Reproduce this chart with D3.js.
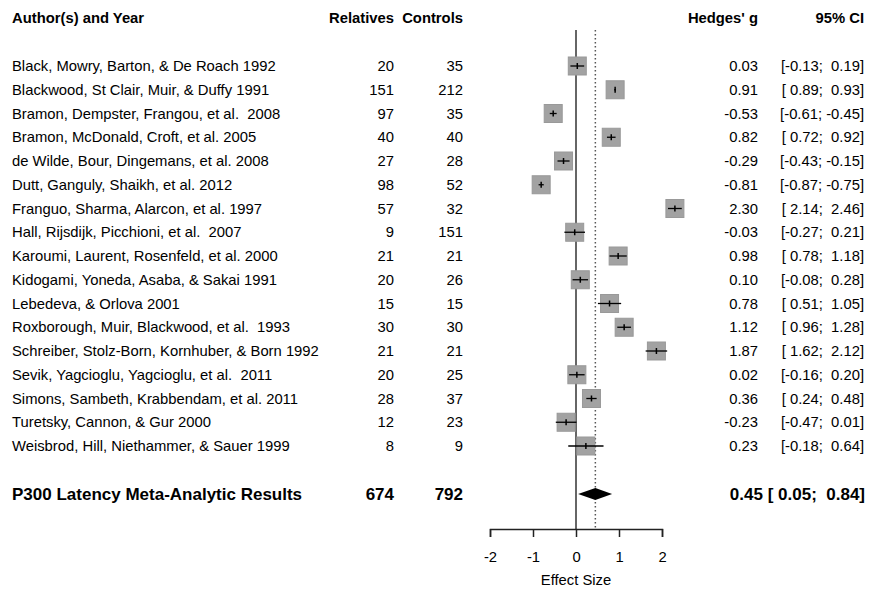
<!DOCTYPE html>
<html>
<head>
<meta charset="utf-8">
<script src="https://cdn.jsdelivr.net/npm/d3@7"></script>
<style>
    body { margin: 0; background: #fff; }
    svg text { font-family: Arial, "Liberation Sans", sans-serif; fill: #000; white-space: pre; }
</style>
</head>
<body>
<div id="chart"></div>
<script>
// study rows, top to bottom
const studies = [
    "Black, Mowry, Barton, & De Roach 1992",
    "Blackwood, St Clair, Muir, & Duffy 1991",
    "Bramon, Dempster, Frangou, et al.  2008",
    "Bramon, McDonald, Croft, et al. 2005",
    "de Wilde, Bour, Dingemans, et al. 2008",
    "Dutt, Ganguly, Shaikh, et al. 2012",
    "Franguo, Sharma, Alarcon, et al. 1997",
    "Hall, Rijsdijk, Picchioni, et al.  2007",
    "Karoumi, Laurent, Rosenfeld, et al. 2000",
    "Kidogami, Yoneda, Asaba, & Sakai 1991",
    "Lebedeva, & Orlova 2001",
    "Roxborough, Muir, Blackwood, et al.  1993",
    "Schreiber, Stolz-Born, Kornhuber, & Born 1992",
    "Sevik, Yagcioglu, Yagcioglu, et al.  2011",
    "Simons, Sambeth, Krabbendam, et al. 2011",
    "Turetsky, Cannon, & Gur 2000",
    "Weisbrod, Hill, Niethammer, & Sauer 1999"
];
const relatives = [20, 151, 97, 40, 27, 98, 57, 9, 21, 20, 15, 30, 21, 20, 28, 12, 8];
const controls = [35, 212, 35, 40, 28, 52, 32, 151, 21, 26, 15, 30, 21, 25, 37, 23, 9];
const hedgesG = [0.03, 0.91, -0.53, 0.82, -0.29, -0.81, 2.30, -0.03, 0.98, 0.10, 0.78, 1.12, 1.87, 0.02, 0.36, -0.23, 0.23];
const ciLower = [-0.13, 0.89, -0.61, 0.72, -0.43, -0.87, 2.14, -0.27, 0.78, -0.08, 0.51, 0.96, 1.62, -0.16, 0.24, -0.47, -0.18];
const ciUpper = [0.19, 0.93, -0.45, 0.92, -0.15, -0.75, 2.46, 0.21, 1.18, 0.28, 1.05, 1.28, 2.12, 0.20, 0.48, 0.01, 0.64];

const summaryLabel = "P300 Latency Meta-Analytic Results";
const summaryN = [674, 792];
const summaryG = 0.45;
const summaryCI = [0.05, 0.84];

const axisTicks = [-2, -1, 0, 1, 2];

const width = 869, height = 590;
const fontSize = 14.8;

const svg = d3.select('#chart').append('svg')
    .attr('width', width)
    .attr('height', height);

const x = d3.scaleLinear().domain([-2, 2]).range([490, 662]);
const y = d3.scaleLinear().domain([0, studies.length - 1]).range([66, 446]);
const ySummary = 494;
const plotTop = 30, plotBottom = 529;

const colAuthor = 12, colRel = 394, colCtl = 463, colG = 758, colCI = 864;

function fmtCI(lo, hi) {
    const f = v => (v < 0 ? '' : ' ') + v.toFixed(2);
    return `[${f(lo)}; ${f(hi)}]`;
}

// headers
const header = svg.append('g').style('font-weight', 'bold').style('font-size', fontSize + 'px');
header.append('text').attr('x', colAuthor).attr('y', 18).attr('dy', '0.35em').text('Author(s) and Year');
header.append('text').attr('x', colRel).attr('y', 18).attr('dy', '0.35em').attr('text-anchor', 'end').text('Relatives');
header.append('text').attr('x', colCtl).attr('y', 18).attr('dy', '0.35em').attr('text-anchor', 'end').text('Controls');
header.append('text').attr('x', colG).attr('y', 18).attr('dy', '0.35em').attr('text-anchor', 'end').text("Hedges' g");
header.append('text').attr('x', colCI).attr('y', 18).attr('dy', '0.35em').attr('text-anchor', 'end').text('95% CI');

// reference lines
svg.append('line')
    .attr('x1', x(0)).attr('x2', x(0))
    .attr('y1', plotTop).attr('y2', plotBottom)
    .attr('stroke', '#333').attr('stroke-width', 1.5);

svg.append('line')
    .attr('x1', x(summaryG)).attr('x2', x(summaryG))
    .attr('y1', plotTop).attr('y2', plotBottom)
    .attr('stroke', '#555').attr('stroke-width', 1.5)
    .attr('stroke-dasharray', '1.5,2.5');

// study rows
const rows = svg.selectAll('.row')
    .data(studies.map((name, i) => ({ name, i })))
    .enter().append('g')
    .attr('class', 'row')
    .style('font-size', fontSize + 'px');

rows.append('text').attr('x', colAuthor).attr('y', d => y(d.i)).attr('dy', '0.35em').text(d => d.name);
rows.append('text').attr('x', colRel).attr('y', d => y(d.i)).attr('dy', '0.35em').attr('text-anchor', 'end').text(d => relatives[d.i]);
rows.append('text').attr('x', colCtl).attr('y', d => y(d.i)).attr('dy', '0.35em').attr('text-anchor', 'end').text(d => controls[d.i]);
rows.append('text').attr('x', colG).attr('y', d => y(d.i)).attr('dy', '0.35em').attr('text-anchor', 'end').text(d => hedgesG[d.i].toFixed(2));
rows.append('text').attr('x', colCI).attr('y', d => y(d.i)).attr('dy', '0.35em').attr('text-anchor', 'end').text(d => fmtCI(ciLower[d.i], ciUpper[d.i]));

const box = 18;
rows.append('rect')
    .attr('x', d => x(hedgesG[d.i]) - box / 2)
    .attr('y', d => y(d.i) - box / 2)
    .attr('width', box).attr('height', box)
    .attr('fill', '#a2a2a2')
    .attr('stroke', '#999').attr('stroke-width', 1);

rows.append('line')
    .attr('x1', d => x(ciLower[d.i])).attr('x2', d => x(ciUpper[d.i]))
    .attr('y1', d => y(d.i)).attr('y2', d => y(d.i))
    .attr('stroke', '#000').attr('stroke-width', 1.3);

rows.append('line')
    .attr('x1', d => x(hedgesG[d.i])).attr('x2', d => x(hedgesG[d.i]))
    .attr('y1', d => y(d.i) - 3).attr('y2', d => y(d.i) + 3)
    .attr('stroke', '#000').attr('stroke-width', 1.5);

// summary row
const sum = svg.append('g').style('font-weight', 'bold').style('font-size', '17px');
sum.append('text').attr('x', colAuthor).attr('y', ySummary).attr('dy', '0.35em').text(summaryLabel);
sum.append('text').attr('x', colRel).attr('y', ySummary).attr('dy', '0.35em').attr('text-anchor', 'end').text(summaryN[0]);
sum.append('text').attr('x', colCtl).attr('y', ySummary).attr('dy', '0.35em').attr('text-anchor', 'end').text(summaryN[1]);
sum.append('text').attr('x', colCI + 1).attr('y', ySummary).attr('dy', '0.35em').attr('text-anchor', 'end')
    .text(`${summaryG.toFixed(2)} [ ${summaryCI[0].toFixed(2)};  ${summaryCI[1].toFixed(2)}]`);

svg.append('path')
    .attr('d', `M${x(summaryCI[0])},${ySummary} L${x(summaryG)},${ySummary - 6} L${x(summaryCI[1])},${ySummary} L${x(summaryG)},${ySummary + 6} Z`)
    .attr('fill', '#000');

// x axis
const axis = svg.append('g')
    .attr('transform', `translate(0,${plotBottom})`)
    .call(d3.axisBottom(x).tickValues(axisTicks).tickFormat(d => String(d)).tickSize(8).tickPadding(14));
axis.select('.domain').attr('stroke', '#222').attr('stroke-width', 1.5);
axis.selectAll('.tick line').attr('stroke', '#222').attr('stroke-width', 1.5);
axis.selectAll('.tick text').style('font-size', fontSize + 'px').style('font-family', 'Arial, "Liberation Sans", sans-serif');

svg.append('text')
    .attr('x', x(0)).attr('y', 580).attr('dy', '0.35em')
    .attr('text-anchor', 'middle')
    .style('font-size', fontSize + 'px')
    .text('Effect Size');
</script>
</body>
</html>
